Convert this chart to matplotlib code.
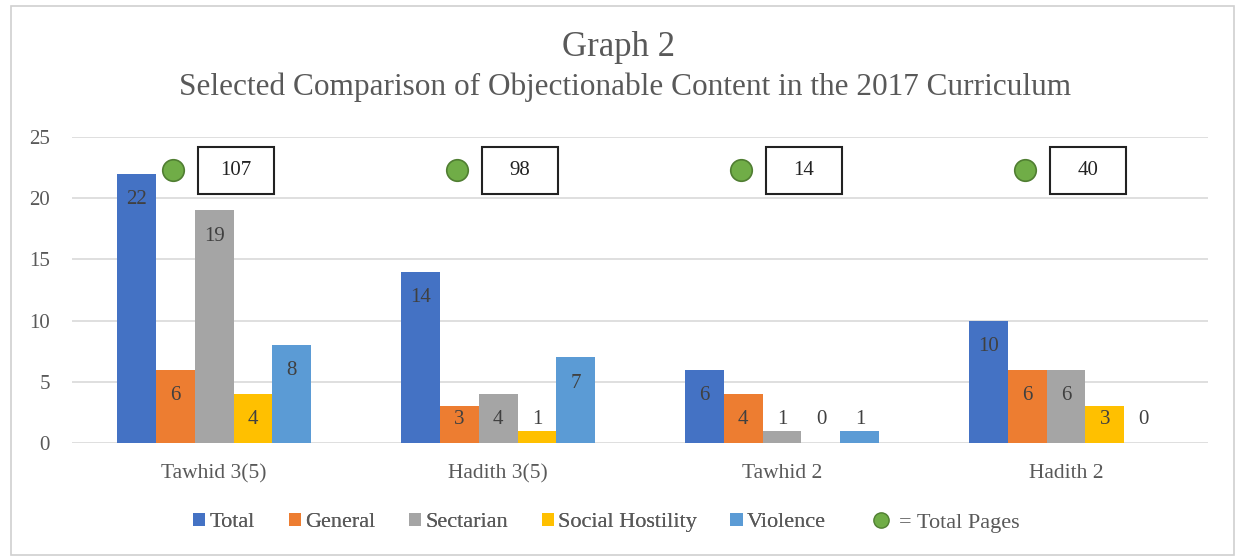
import matplotlib
matplotlib.use("Agg")
import matplotlib.pyplot as plt
import numpy as np
from matplotlib.lines import Line2D
from matplotlib.patches import Rectangle

categories = ["Tawhid 3(5)", "Hadith 3(5)", "Tawhid 2", "Hadith 2"]
series_names = ["Total", "General", "Sectarian", "Social Hostility", "Violence"]
total = [22, 14, 6, 10]
general = [6, 3, 4, 6]
sectarian = [19, 4, 1, 6]
social_hostility = [4, 1, 0, 3]
violence = [8, 7, 1, 0]
total_pages = [107, 98, 14, 40]

colors = ["#4472C4", "#ED7D31", "#A5A5A5", "#FFC000", "#5B9BD5"]
series = [total, general, sectarian, social_hostility, violence]

plt.rcParams["font.family"] = ["Liberation Serif", "DejaVu Serif"]
TXT = "#595959"

fig = plt.figure(figsize=(12.38, 5.58), dpi=100)
fig.patches.append(Rectangle((0.009, 0.006), 0.988, 0.984, transform=fig.transFigure,
                             fill=False, edgecolor="#D0D0D0", linewidth=1.2))
ax = fig.add_axes([0.0582, 0.2061, 0.9176, 0.5484])

x = np.arange(len(categories))
bw = 0.137
for k, (name, vals, c) in enumerate(zip(series_names, series, colors)):
    pos = x + (k - 2) * bw
    ax.bar(pos, vals, width=bw, color=c, label=name, zorder=2)
    for p, v in zip(pos, vals):
        ax.text(p, max(v - 2.1, 1.9), str(v), ha="center", va="center",
                fontsize=15, color="#404040", zorder=3)

# total pages: green dot plus boxed number above each group
for i, n in enumerate(total_pages):
    ax.plot(i - 0.145, 22.3, "o", ms=15.5, mfc="#70AD47", mec="#507E32", mew=1.2,
            zorder=4, clip_on=False)
    ax.add_patch(Rectangle((i + 0.077 - 0.134, 22.3 - 1.92), 0.268, 3.84,
                           fill=True, facecolor="white", edgecolor="#222222",
                           linewidth=1.5, zorder=4, clip_on=False))
    ax.text(i + 0.077, 22.3, str(n), ha="center", va="center", fontsize=15,
            color="#222222", zorder=5)

ax.set_xlim(-0.5, len(categories) - 0.5)
ax.set_ylim(0, 25)
ax.set_yticks(range(0, 26, 5))
ax.set_xticks(x)
ax.set_xticklabels(categories)
ax.yaxis.grid(True, color="#D9D9D9", linewidth=1.2, zorder=0)
ax.set_axisbelow(True)
for s in ax.spines.values():
    s.set_visible(False)
ax.tick_params(axis="y", length=0, labelsize=15, colors=TXT, pad=16)
ax.tick_params(axis="x", length=0, labelsize=15.5, colors=TXT, pad=15)

fig.text(0.4995, 0.914, "Graph 2", ha="center", va="center", fontsize=25, color=TXT)
fig.text(0.5045, 0.843, "Selected Comparison of Objectionable Content in the 2017 Curriculum",
         ha="center", va="center", fontsize=22.5, color=TXT)

leg1 = fig.legend(loc="center left", bbox_to_anchor=(0.156, 0.064), ncol=5, frameon=False,
                  fontsize=16, handlelength=0.55, handleheight=0.55, handletextpad=0.2,
                  columnspacing=1.5, labelcolor=TXT, borderpad=0, borderaxespad=0)
pages_handle = Line2D([], [], marker="o", ls="none", ms=11, mfc="#70AD47", mec="#507E32")
leg2 = fig.legend([pages_handle], ["= Total Pages"], loc="center left",
                  bbox_to_anchor=(0.703, 0.064), frameon=False, fontsize=16,
                  handlelength=1.0, handletextpad=0.3, labelcolor=TXT,
                  borderpad=0, borderaxespad=0)
fig.add_artist(leg1)

fig.savefig("out.png", dpi=100)
